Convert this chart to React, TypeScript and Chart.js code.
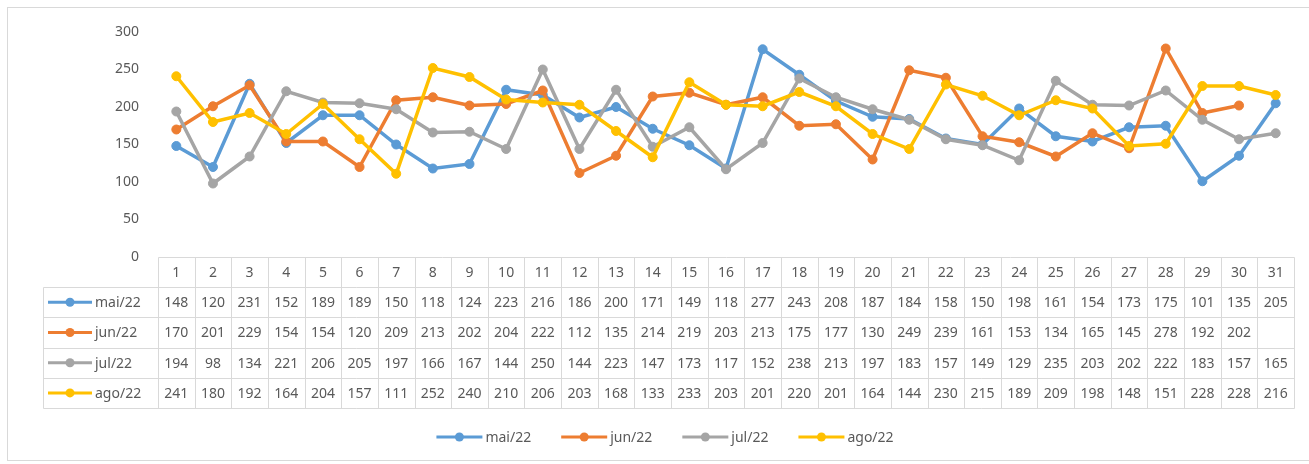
import React, { useEffect, useRef } from "react";
import { Chart, registerables } from "chart.js";
Chart.register(...registerables);

const days = ["1","2","3","4","5","6","7","8","9","10","11","12","13","14","15","16","17","18","19","20","21","22","23","24","25","26","27","28","29","30","31"];
const seriesNames = ["mai/22", "jun/22", "jul/22", "ago/22"];
const mai22 = [148,120,231,152,189,189,150,118,124,223,216,186,200,171,149,118,277,243,208,187,184,158,150,198,161,154,173,175,101,135,205];
const jun22 = [170,201,229,154,154,120,209,213,202,204,222,112,135,214,219,203,213,175,177,130,249,239,161,153,134,165,145,278,192,202,null];
const jul22 = [194,98,134,221,206,205,197,166,167,144,250,144,223,147,173,117,152,238,213,197,183,157,149,129,235,203,202,222,183,157,165];
const ago22 = [241,180,192,164,204,157,111,252,240,210,206,203,168,133,233,203,201,220,201,164,144,230,215,189,209,198,148,151,228,228,216];
const seriesValues = [mai22, jun22, jul22, ago22];
const colors = ["#5B9BD5", "#ED7D31", "#A5A5A5", "#FFC000"];
const yTicks = { min: 0, max: 300, step: 50 };

const FONT = "'Noto Sans', sans-serif";
const TEXT = "#595959";
const GRID = "#D9D9D9";

const tablePlugin = {
  id: "excelTable",
  beforeDraw(chart: any) {
    const ctx = chart.ctx;
    ctx.save();
    ctx.fillStyle = "#ffffff";
    ctx.fillRect(0, 0, chart.width, chart.height);
    ctx.strokeStyle = GRID;
    ctx.lineWidth = 1;
    ctx.strokeRect(7.5, 7.5, chart.width + 10, 453);
    ctx.restore();
  },
  afterDraw(chart: any) {
    const ctx = chart.ctx;
    const xs = chart.scales.x;
    const area = chart.chartArea;
    const n = days.length;
    const colW = (area.right - area.left) / n;
    const tableTop = 257;
    const rowH = 30.2;
    const keyLeft = 43;
    const rows = seriesNames.length + 1;
    const bottom = tableTop + rows * rowH;
    ctx.save();
    ctx.strokeStyle = GRID;
    ctx.lineWidth = 1;
    const px = (v: number) => Math.round(v) + 0.5;
    ctx.beginPath();
    ctx.moveTo(px(area.left), px(tableTop));
    ctx.lineTo(px(area.right), px(tableTop));
    for (let r = 1; r <= rows; r++) {
      const y = px(tableTop + r * rowH);
      ctx.moveTo(px(keyLeft), y);
      ctx.lineTo(px(area.right), y);
    }
    ctx.moveTo(px(keyLeft), px(tableTop + rowH));
    ctx.lineTo(px(keyLeft), px(bottom));
    for (let i = 0; i <= n; i++) {
      const x = px(area.left + i * colW);
      ctx.moveTo(x, px(tableTop));
      ctx.lineTo(x, px(bottom));
    }
    ctx.stroke();

    ctx.font = `14px ${FONT}`;
    ctx.fillStyle = TEXT;
    ctx.textAlign = "center";
    ctx.textBaseline = "middle";
    for (let i = 0; i < n; i++) {
      const cx = xs.getPixelForValue(i);
      ctx.fillText(days[i], cx, tableTop + rowH / 2 + 1);
    }
    seriesNames.forEach((name, s) => {
      const cy = tableTop + (s + 1) * rowH + rowH / 2 + 1;
      const vals = seriesValues[s];
      ctx.fillStyle = TEXT;
      ctx.textAlign = "center";
      for (let i = 0; i < n; i++) {
        const v = vals[i];
        if (v === null || v === undefined) continue;
        ctx.fillText(String(v), xs.getPixelForValue(i), cy);
      }
      ctx.strokeStyle = colors[s];
      ctx.lineWidth = 3;
      ctx.beginPath();
      ctx.moveTo(48, cy - 1);
      ctx.lineTo(92, cy - 1);
      ctx.stroke();
      ctx.fillStyle = colors[s];
      ctx.beginPath();
      ctx.arc(70, cy - 1, 4.5, 0, Math.PI * 2);
      ctx.fill();
      ctx.fillStyle = TEXT;
      ctx.textAlign = "left";
      ctx.fillText(name, 95, cy);
    });

    const keyW = 46;
    const gap = 3;
    const spacing = 30;
    const widths = seriesNames.map((t) => ctx.measureText(t).width);
    const total = widths.reduce((a, w) => a + keyW + gap + w, 0) + spacing * (seriesNames.length - 1);
    let x = 665 - total / 2;
    const ly = 437;
    seriesNames.forEach((name, s) => {
      ctx.strokeStyle = colors[s];
      ctx.lineWidth = 3;
      ctx.beginPath();
      ctx.moveTo(x, ly);
      ctx.lineTo(x + keyW, ly);
      ctx.stroke();
      ctx.fillStyle = colors[s];
      ctx.beginPath();
      ctx.arc(x + keyW / 2, ly, 4.5, 0, Math.PI * 2);
      ctx.fill();
      ctx.fillStyle = TEXT;
      ctx.textAlign = "left";
      ctx.fillText(name, x + keyW + gap, ly + 1);
      x += keyW + gap + widths[s] + spacing;
    });
    ctx.restore();
  },
};

export default function App() {
  const ref = useRef<HTMLCanvasElement | null>(null);
  useEffect(() => {
    if (!ref.current) return;
    const chart = new Chart(ref.current, {
      type: "line",
      data: {
        labels: days,
        datasets: seriesNames.map((name, s) => ({
          label: name,
          data: seriesValues[s],
          borderColor: colors[s],
          backgroundColor: colors[s],
          pointBackgroundColor: colors[s],
          pointBorderColor: colors[s],
          pointBorderWidth: 1,
          pointRadius: 4.5,
          borderWidth: 3.5,
          tension: 0,
          spanGaps: false,
          order: seriesNames.length - 1 - s,
        })),
      },
      options: {
        animation: false,
        responsive: false,
        events: [],
        layout: { padding: { top: 32, right: 15, bottom: 207, left: 0 } },
        plugins: { legend: { display: false }, tooltip: { enabled: false } },
        scales: {
          x: { type: "category", offset: true, display: false },
          y: {
            min: yTicks.min,
            max: yTicks.max,
            border: { display: false },
            grid: { display: false, drawTicks: false },
            ticks: { stepSize: yTicks.step, padding: 19, color: TEXT, font: { family: FONT, size: 14 } },
            afterFit: (scale: any) => {
              scale.width = 158;
            },
          },
        },
      },
      plugins: [tablePlugin],
    });
    return () => chart.destroy();
  }, []);
  return (
    <div style={{ position: "fixed", left: 0, top: 0, width: 1309, height: 464 }}>
      <canvas ref={ref} width={1309} height={464} style={{ display: "block" }} />
    </div>
  );
}
